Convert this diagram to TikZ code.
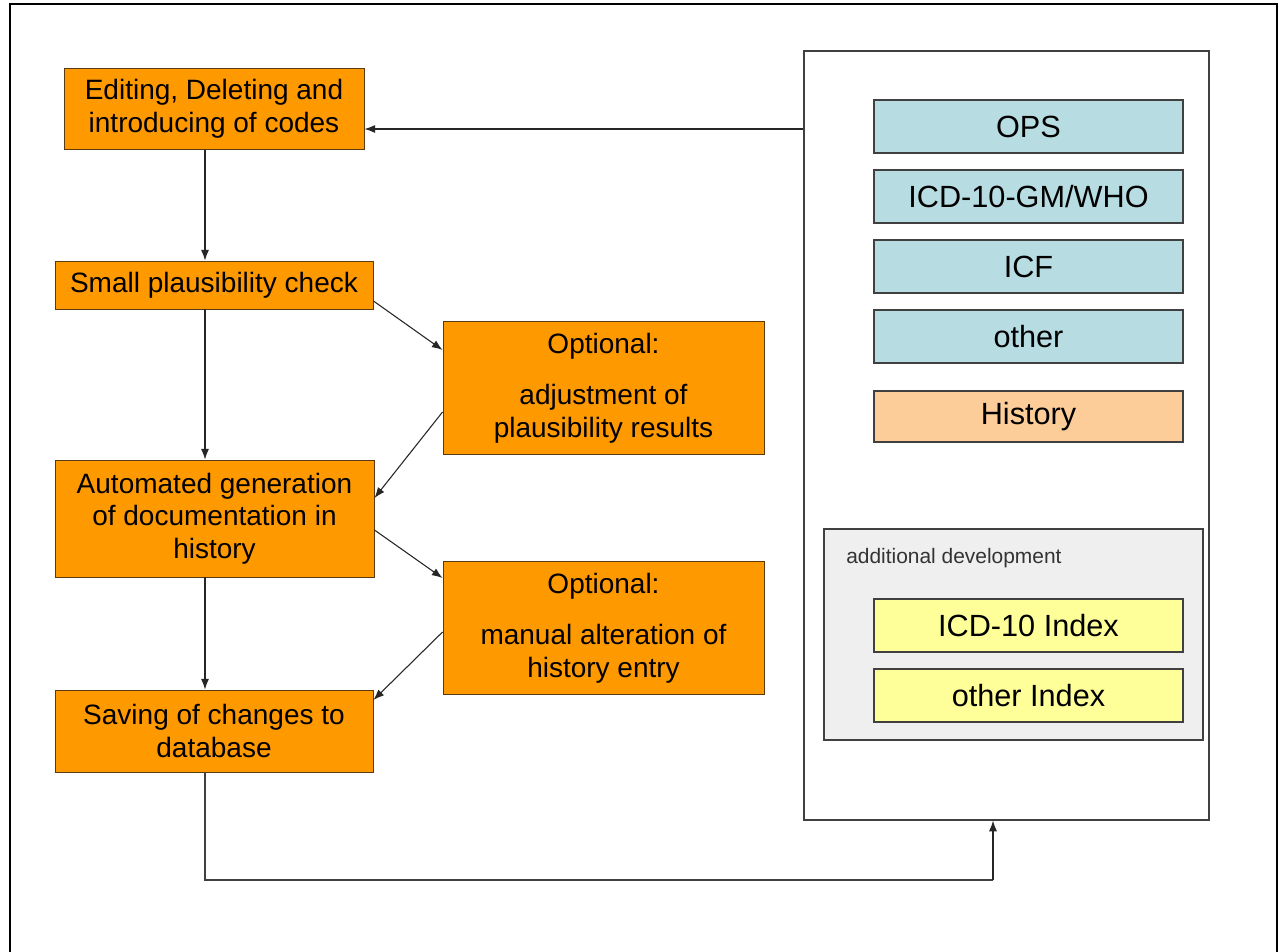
\documentclass[tikz,border=0pt]{standalone}
\usepackage{fontspec}
\setmainfont{Liberation Sans}
\usetikzlibrary{arrows.meta,calc}
\definecolor{orangebox}{HTML}{FF9900}
\definecolor{bluebox}{HTML}{B7DDE3}
\definecolor{peachbox}{HTML}{FCCC99}
\definecolor{yellowbox}{HTML}{FFFF99}
\definecolor{graybox}{HTML}{EFEFEF}
\definecolor{edgeline}{HTML}{404040}
\definecolor{orangeline}{HTML}{5A3A10}
\begin{document}
\begin{tikzpicture}[x=0.75pt,y=-0.75pt,
  obox/.style={draw=orangeline, line width=0.7pt, fill=orangebox, inner sep=0pt, align=center,
    font=\fontsize{21}{24.5}\selectfont},
  pbox/.style={draw=edgeline, line width=0.9pt, inner sep=0pt, align=center,
    minimum width=231.75pt, minimum height=39.75pt, font=\fontsize{23}{26}\selectfont},
  arr/.style={draw=black!85, line width=0.8pt, -{Latex[length=8pt,width=6pt]}},
  conn/.style={draw=black!75, line width=0.8pt}
]
\useasboundingbox (0,0) rectangle (1279,951);
\fill[white] (0,0) rectangle (1279,951);
% outer frame (open at the bottom)
\draw[line width=1.6pt, black] (10,960) -- (10,4) -- (1277,4) -- (1277,960);

% left column boxes
\node[obox, minimum width=225pt, minimum height=60.75pt] (b1) at (214,109) {Editing, Deleting and\\introducing of codes};
\node[obox, minimum width=238.5pt, minimum height=36pt] (b2) at (214,285) {Small plausibility check};
\node[obox, minimum width=240.75pt, minimum height=99.75pt] (b3) at (603.5,388) {Optional:\\[14pt]adjustment of\\plausibility results};
\node[obox, minimum width=239.25pt, minimum height=87.75pt] (b4) at (214.5,518.5) {Automated generation\\of documentation in\\history};
\node[obox, minimum width=240.75pt, minimum height=99.75pt] (b5) at (603.5,628) {Optional:\\[14pt]manual alteration of\\history entry};
\node[obox, minimum width=238.5pt, minimum height=61.5pt] (b6) at (214,731) {Saving of changes to\\database};

% right panel
\node[draw=edgeline, line width=0.9pt, fill=white, minimum width=303.75pt, minimum height=576.75pt, inner sep=0pt] (panel) at (1006.5,435.5) {};
\node[pbox, fill=bluebox] (ops) at (1028.5,126.5) {OPS};
\node[pbox, fill=bluebox] (icd) at (1028.5,196.5) {ICD-10-GM/WHO};
\node[pbox, fill=bluebox] (icf) at (1028.5,266.5) {ICF};
\node[pbox, fill=bluebox] (oth) at (1028.5,336.5) {other};
\node[pbox, fill=peachbox, minimum height=38.25pt] (hist) at (1028.5,416.5) {History};
\node[draw=edgeline, line width=0.9pt, fill=graybox, minimum width=284.25pt, minimum height=158.25pt, inner sep=0pt] (add) at (1013.5,634.5) {};
\node[anchor=west, inner sep=0pt, font=\fontsize{15.7}{18}\selectfont, text=black!80] (addlbl) at (846,558) {additional development};
\node[pbox, fill=yellowbox] (idx1) at (1028.5,625.5) {ICD-10 Index};
\node[pbox, fill=yellowbox] (idx2) at (1028.5,695.5) {other Index};

% helper coordinates
\coordinate (xline) at (205,0);
\coordinate (rx) at (993,880);

% connectors
\draw[arr] (panel.west |- 0,129) -- (b1.east |- 0,129);
\draw[arr] (b1.south -| xline) -- (b2.north -| xline);
\draw[arr] (b2.south -| xline) -- (b4.north -| xline);
\draw[arr] (b4.south -| xline) -- (b6.north -| xline);
\draw[arr] (b2.east |- 0,301) -- (b3.west |- 0,350);
\draw[arr] (b3.west |- 0,412) -- (b4.east |- 0,498);
\draw[arr] (b4.east |- 0,530) -- (b5.west |- 0,578);
\draw[arr] (b5.west |- 0,632) -- (b6.east |- 0,700);
\draw[conn] (b6.south -| xline) |- (rx);
\draw[arr] (rx) -- (panel.south -| rx);
\end{tikzpicture}
\end{document}
